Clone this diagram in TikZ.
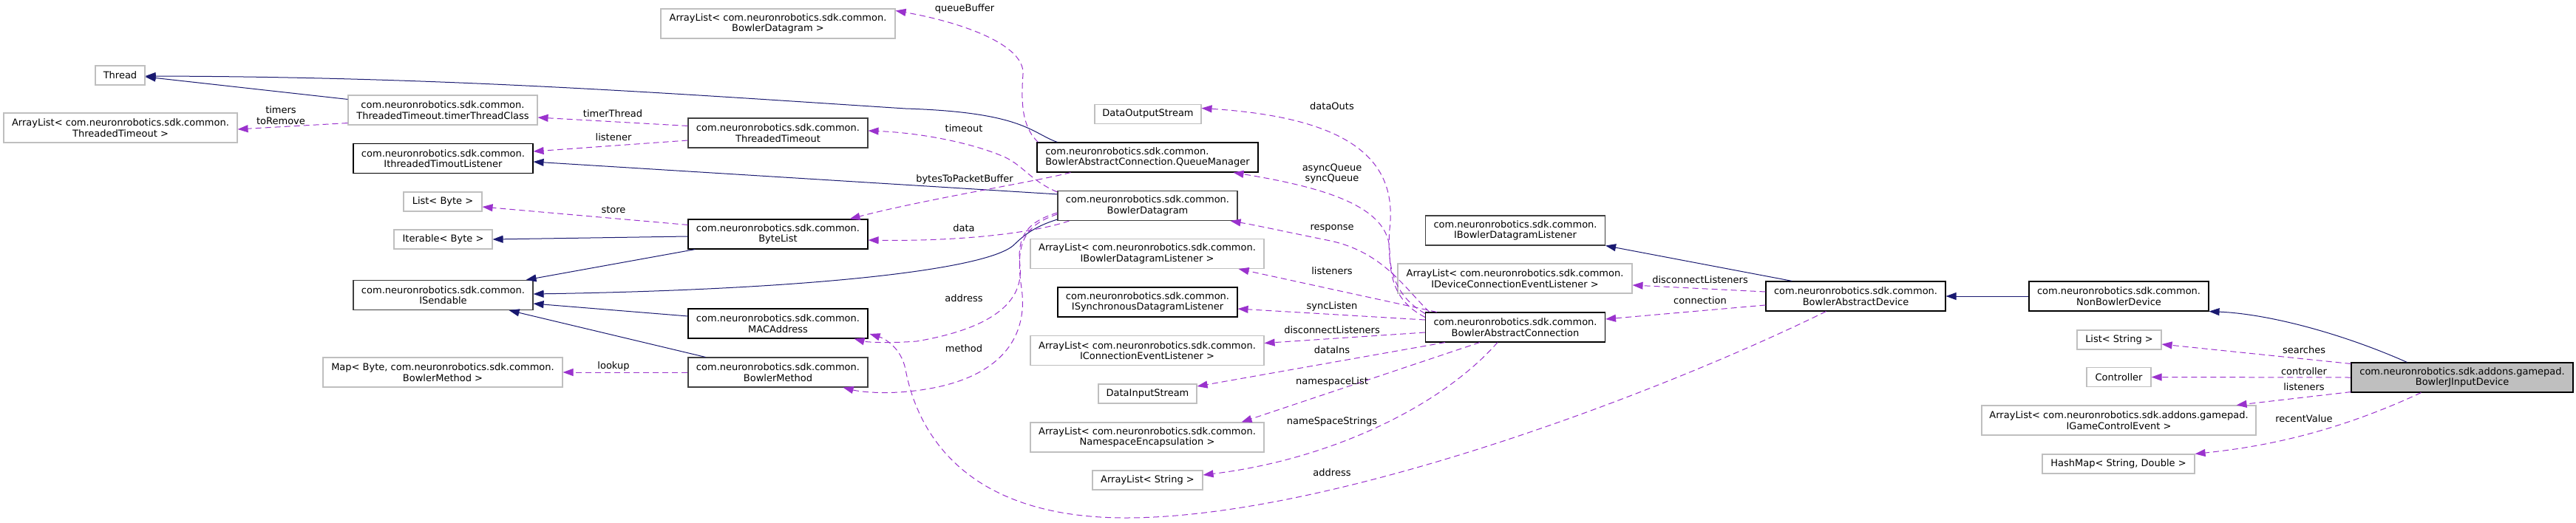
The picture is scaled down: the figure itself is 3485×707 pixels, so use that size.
\documentclass[tikz,border=0pt]{standalone}
\usepackage{fontspec}
\setmainfont{DejaVu Sans}
\usetikzlibrary{arrows.meta,calc}
\definecolor{inhcol}{HTML}{191970}
\definecolor{depcol}{HTML}{9A32CD}
\definecolor{extcol}{HTML}{BFBFBF}
\definecolor{doccol}{HTML}{404040}
\begin{document}
\begin{tikzpicture}[x=1pt,y=-1pt,font=\fontsize{13}{14.5}\selectfont,
  box/.style={draw,line width=1.1pt,inner sep=0pt,align=center,fill=white,minimum width=243pt,minimum height=40pt},
  cls/.style={box,draw=black},
  clsg/.style={box,draw=doccol},
  ext/.style={box,draw=extcol},
  mainbox/.style={box,draw=black,fill=extcol},
  inh/.style={draw=inhcol,line width=1pt,-{Triangle[length=14pt,width=10pt]}},
  dep/.style={draw=depcol,line width=1pt,dash pattern=on 8pt off 5pt,-{Triangle[length=14pt,width=10pt]}},
  lbl/.style={inner sep=0pt,align=center}]
\useasboundingbox (0,0) rectangle (3485,707);
% nodes
\node[ext,minimum width=67pt,minimum height=26pt] (thread) at (162.5,102) {Thread};
\node[ext,minimum width=316pt] (alTT) at (163,173) {ArrayList< com.neuronrobotics.sdk.common.\\ThreadedTimeout >};
\node[ext,minimum width=256pt] (timerTC) at (599,149) {com.neuronrobotics.sdk.common.\\ThreadedTimeout.timerThreadClass};
\node[cls] (ithl) at (599.5,214.5) {com.neuronrobotics.sdk.common.\\IthreadedTimoutListener};
\node[ext,minimum width=106pt,minimum height=26pt] (listByte) at (599,273) {List< Byte >};
\node[ext,minimum width=133pt,minimum height=26pt] (iterByte) at (599.5,324) {Iterable< Byte >};
\node[clsg] (isend) at (599.5,399.5) {com.neuronrobotics.sdk.common.\\ISendable};
\node[ext,minimum width=324pt] (mapB) at (599,504) {Map< Byte, com.neuronrobotics.sdk.common.\\BowlerMethod >};
\node[ext,minimum width=317pt] (alBD) at (1052.5,32) {ArrayList< com.neuronrobotics.sdk.common.\\BowlerDatagram >};
\node[clsg] (tto) at (1052.5,180) {com.neuronrobotics.sdk.common.\\ThreadedTimeout};
\node[cls] (byteList) at (1052.5,317) {com.neuronrobotics.sdk.common.\\ByteList};
\node[cls] (mac) at (1052.5,438) {com.neuronrobotics.sdk.common.\\MACAddress};
\node[clsg] (bmeth) at (1052.5,504) {com.neuronrobotics.sdk.common.\\BowlerMethod};
\node[ext,minimum width=144pt,minimum height=26pt] (dos) at (1553,154.5) {DataOutputStream};
\node[cls,minimum width=299pt,align=left] (qm) at (1552.5,213) {com.neuronrobotics.sdk.common.\\BowlerAbstractConnection.QueueManager};
\node[clsg] (bdg) at (1552.5,278.5) {com.neuronrobotics.sdk.common.\\BowlerDatagram};
\node[ext,minimum width=316pt] (alIBDL) at (1552,343.5) {ArrayList< com.neuronrobotics.sdk.common.\\IBowlerDatagramListener >};
\node[cls] (isync) at (1552.5,409) {com.neuronrobotics.sdk.common.\\ISynchronousDatagramListener};
\node[ext,minimum width=316pt] (alICEL) at (1552,474.5) {ArrayList< com.neuronrobotics.sdk.common.\\IConnectionEventListener >};
\node[ext,minimum width=133pt,minimum height=26pt] (dis) at (1552.5,533) {DataInputStream};
\node[ext,minimum width=316pt] (alNE) at (1552,592) {ArrayList< com.neuronrobotics.sdk.common.\\NamespaceEncapsulation >};
\node[ext,minimum width=149pt,minimum height=26pt] (alStr) at (1552.5,650) {ArrayList< String >};
\node[clsg] (ibdl) at (2050,312) {com.neuronrobotics.sdk.common.\\IBowlerDatagramListener};
\node[ext,minimum width=317pt] (alIDCEL) at (2049.5,377) {ArrayList< com.neuronrobotics.sdk.common.\\IDeviceConnectionEventListener >};
\node[cls] (bac) at (2050,443) {com.neuronrobotics.sdk.common.\\BowlerAbstractConnection};
\node[cls] (bad) at (2510.5,401) {com.neuronrobotics.sdk.common.\\BowlerAbstractDevice};
\node[cls] (nbd) at (2866.5,401) {com.neuronrobotics.sdk.common.\\NonBowlerDevice};
\node[ext,minimum width=114pt,minimum height=26pt] (listStr) at (2867,460) {List< String >};
\node[ext,minimum width=87pt,minimum height=26pt] (ctrl) at (2866.5,510.5) {Controller};
\node[ext,minimum width=371pt] (alIGCE) at (2866.5,569) {ArrayList< com.neuronrobotics.sdk.addons.gamepad.\\IGameControlEvent >};
\node[ext,minimum width=206pt,minimum height=26pt] (hmap) at (2866,628) {HashMap< String, Double >};
\node[mainbox,minimum width=300pt] (bjid) at (3331,511) {com.neuronrobotics.sdk.addons.gamepad.\\BowlerJInputDevice};
% inheritance
\draw[inh] ($(timerTC.north west)+(0,6)$) -- ($(thread.east)+(0,2)$);
\draw[inh] ($(qm.north west)+(28,0)$) .. controls (1395,180) and (1385,152) .. (1225,147) .. controls (900,126) and (600,104) .. ($(thread.east)+(0,1)$);
\draw[inh] ($(bdg.north west)+(0,5)$) -- ($(ithl.east)+(0,4.5)$);
\draw[inh] ($(byteList.west)+(0,3)$) -- (iterByte.east);
\draw[inh] ($(byteList.south west)+(10,0)$) -- ($(isend.north east)+(-10,0)$);
\draw[inh] ($(bdg.south west)+(0,-2)$) .. controls (1395,308) and (1382,322) .. (1370,333) .. controls (1330,365) and (1100,392) .. ($(isend.east)+(0,-1.5)$);
\draw[inh] ($(mac.west)+(0,-10)$) -- ($(isend.east)+(0,11.5)$);
\draw[inh] ($(bmeth.north west)+(24,0)$) -- ($(isend.south east)+(-33,0)$);
\draw[inh] ($(bad.north west)+(36,0)$) -- (ibdl.south east);
\draw[inh] (nbd.west) -- (bad.east);
\draw[inh] ($(bjid.north west)+(76,0)$) .. controls (3170,452) and (3070,425) .. (nbd.south east);
% dependencies
\draw[dep] ($(timerTC.south west)+(0,-3)$) -- ($(alTT.east)+(0,2)$);
\node[lbl] (lTimers) at (380,156) {timers\\toRemove};
\draw[dep] ($(tto.north west)+(0,11)$) -- ($(timerTC.east)+(0,10)$);
\node[lbl] (lTimerThread) at (829,154) {timerThread};
\draw[dep] ($(tto.west)+(0,10)$) -- ($(ithl.east)+(0,-9.5)$);
\node[lbl] (lListener) at (830,186) {listener};
\draw[dep] ($(byteList.north west)+(0,8)$) -- ($(listByte.east)+(0,7)$);
\node[lbl] (lStore) at (830,284) {store};
\draw[dep] ($(qm.north west)+(2,0)$) .. controls (1380,170) and (1382,130) .. (1384,100) .. controls (1386,60) and (1300,30) .. ($(alBD.north east)+(0,3)$);
\node[lbl] (lQueueBuffer) at (1305,12) {queueBuffer};
\draw[dep] ($(qm.south west)+(46,0)$) .. controls (1400,246) and (1250,270) .. ($(byteList.north east)+(-25,0)$);
\node[lbl] (lBytes) at (1305,243) {bytesToPacketBuffer};
\draw[dep] ($(bdg.north west)+(0,2)$) .. controls (1395,245) and (1385,225) .. (1360,213) .. controls (1320,195) and (1250,180) .. ($(tto.east)+(0,-3)$);
\node[lbl] (lTimeout) at (1304,174) {timeout};
\draw[dep] ($(bdg.south west)+(16,0)$) .. controls (1400,315) and (1300,327) .. ($(byteList.east)+(0,8)$);
\node[lbl] (lData) at (1304,309) {data};
\draw[dep] ($(bdg.west)+(0,9.5)$) .. controls (1390,300) and (1375,320) .. (1380,360) .. controls (1385,410) and (1340,445) .. (1240,462) .. controls (1200,465) and (1172,463) .. ($(mac.south east)+(-19,0)$);
\node[lbl] (lAddress1) at (1304,404) {address};
\draw[dep] ($(bdg.west)+(0,11.5)$) .. controls (1385,305) and (1373,330) .. (1382,390) .. controls (1392,460) and (1350,522) .. (1216,531) .. controls (1180,533) and (1158,529) .. ($(bmeth.south east)+(-34,0)$);
\node[lbl] (lMethod) at (1304,472) {method};
\draw[dep] ($(bac.north west)+(0,7)$) .. controls (1890,410) and (1880,380) .. (1880,340) .. controls (1880,282) and (1800,255) .. ($(qm.south east)+(-34,0)$);
\node[lbl] (lQueues) at (1802,235) {asyncQueue\\syncQueue};
\draw[dep] ($(bac.north west)+(0,2)$) .. controls (1885,400) and (1876,360) .. (1880,310) .. controls (1890,225) and (1840,160) .. ($(dos.east)+(0,-8)$);
\node[lbl] (lDataOuts) at (1802,144) {dataOuts};
\draw[dep] ($(bac.north west)+(6,0)$) .. controls (1900,390) and (1872,342) .. (1800,326) .. controls (1750,316) and (1700,305) .. ($(bdg.south east)+(-10,0)$);
\node[lbl] (lResponse) at (1802,309) {response};
\draw[dep] ($(bac.north west)+(16,0)$) -- ($(alIBDL.south east)+(-35,0)$);
\node[lbl] (lListeners1) at (1802,367) {listeners};
\draw[dep] ($(bac.west)+(0,-10)$) -- ($(isync.east)+(0,9)$);
\node[lbl] (lSyncListen) at (1802,415) {syncListen};
\draw[dep] ($(bac.west)+(0,7)$) -- ($(alICEL.east)+(0,-10)$);
\node[lbl] (lDisc1) at (1802,447) {disconnectListeners};
\draw[dep] ($(bac.south west)+(27,0)$) -- ($(dis.east)+(0,-10)$);
\node[lbl] (lDataIns) at (1802,474) {dataIns};
\draw[dep] ($(bac.south west)+(74,0)$) -- ($(alNE.north east)+(-31,0)$);
\node[lbl] (lNsList) at (1802,517) {namespaceList};
\draw[dep] ($(bac.south west)+(98,0)$) .. controls (1950,550) and (1800,622) .. ($(alStr.east)+(0,-7)$);
\node[lbl] (lNsStrings) at (1802,571) {nameSpaceStrings};
\draw[dep] ($(bad.south west)+(82,0)$) .. controls (2250,530) and (1800,702) .. (1520,701) .. controls (1300,700) and (1240,580) .. (1225,500) .. controls (1219,470) and (1196,458) .. ($(mac.east)+(2,14)$);
\node[lbl] (lAddress2) at (1802,640) {address};
\draw[dep] ($(bad.west)+(0,-6)$) -- ($(alIDCEL.east)+(0,9)$);
\node[lbl] (lDisc2) at (2300,379) {disconnectListeners};
\draw[dep] ($(bad.west)+(0,12)$) -- ($(bac.east)+(0,-11)$);
\node[lbl] (lConnection) at (2300,407) {connection};
\draw[dep] ($(bjid.north west)+(0,2)$) -- ($(listStr.east)+(0,6)$);
\node[lbl] (lSearches) at (3117,474) {searches};
\draw[dep] (bjid.west) -- (ctrl.east);
\node[lbl] (lController) at (3117,503) {controller};
\draw[dep] ($(bjid.south west)+(0,-1)$) -- ($(alIGCE.north east)+(-27,0)$);
\node[lbl] (lListeners2) at (3117,524) {listeners};
\draw[dep] ($(bjid.south west)+(95,0)$) .. controls (3150,590) and (3050,606) .. (hmap.north east);
\node[lbl] (lRecent) at (3117,567) {recentValue};
\draw[dep] (bmeth.west) -- (mapB.east);
\node[lbl] (lLookup) at (830,496) {lookup};
\end{tikzpicture}
\end{document}
